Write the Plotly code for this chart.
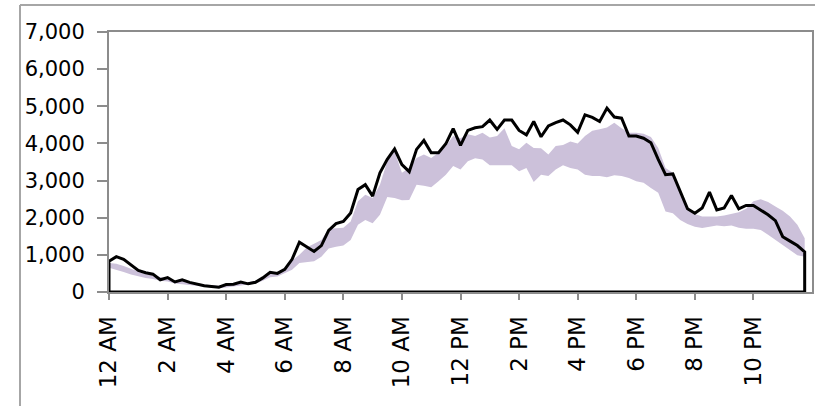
import plotly.graph_objects as go

# ---- data (15-minute intervals over one day) ----
tick_hours = [0, 2, 4, 6, 8, 10, 12, 14, 16, 18, 20, 22]
tick_labels = ["12 AM", "2 AM", "4 AM", "6 AM", "8 AM", "10 AM",
               "12 PM", "2 PM", "4 PM", "6 PM", "8 PM", "10 PM"]

actual = [830, 950, 880, 720, 580, 520, 480, 330, 390, 270, 330, 260,
          210, 170, 150, 130, 200, 210, 270, 220, 260, 380, 530, 500,
          610, 880, 1340, 1210, 1090, 1250, 1660, 1840, 1900, 2130, 2760, 2890,
          2580, 3210, 3570, 3850, 3430, 3240, 3840, 4080, 3750, 3750, 3990, 4400,
          3950, 4350, 4420, 4450, 4630, 4380, 4630, 4630, 4350, 4230, 4590, 4180,
          4470, 4560, 4630, 4500, 4300, 4770, 4700, 4590, 4950, 4710, 4680, 4200,
          4200, 4140, 4020, 3570, 3160, 3180, 2710, 2240, 2120, 2260, 2690, 2210,
          2260, 2600, 2240, 2330, 2330, 2210, 2080, 1920, 1490, 1370, 1250, 1080]

band_upper = [780, 760, 700, 620, 540, 480, 450, 400, 360, 310, 300, 280,
              240, 200, 180, 170, 200, 230, 250, 260, 300, 400, 500, 500,
              600, 850, 1000, 1200, 1300, 1400, 1700, 1710, 1730, 1900, 2440, 2620,
              2530, 2890, 3520, 3780, 3210, 3340, 3610, 3700, 3610, 3750, 3930, 4200,
              4140, 4250, 4200, 4290, 4160, 4200, 4410, 3930, 3840, 4020, 3880, 3870,
              3700, 3930, 3960, 4050, 4000, 4200, 4340, 4380, 4430, 4560, 4410, 4290,
              4290, 4260, 4170, 3880, 3340, 3210, 2710, 2260, 2100, 2030, 2030, 2030,
              2060, 2100, 2150, 2240, 2440, 2500, 2420, 2300, 2190, 2030, 1810, 1450]

band_lower = [650, 600, 540, 470, 420, 380, 350, 300, 280, 230, 210, 190,
              160, 130, 110, 100, 120, 150, 170, 200, 230, 300, 400, 420,
              500, 600, 780, 800, 830, 950, 1170, 1220, 1250, 1400, 1810, 1940,
              1850, 2080, 2560, 2530, 2470, 2480, 2890, 2860, 2820, 2980, 3160, 3390,
              3300, 3520, 3600, 3570, 3410, 3410, 3410, 3410, 3250, 3340, 2960, 3160,
              3120, 3300, 3410, 3340, 3300, 3160, 3120, 3120, 3090, 3140, 3120, 3070,
              2980, 2940, 2800, 2670, 2170, 2120, 1940, 1830, 1760, 1720, 1760, 1790,
              1770, 1790, 1730, 1700, 1700, 1670, 1540, 1400, 1270, 1130, 990, 950]

hours = [i / 4 for i in range(len(actual))]

# ---- styling ----
W, H = 815, 406
ML, MR, MT, MB = 109, 3, 32, 114
FONT = "DejaVu Sans"
LAVENDER = "#CCC1DA"
FRAME = "#8C8C8C"

fig = go.Figure()

fig.add_trace(go.Scatter(x=hours, y=band_lower, mode="lines",
                         line=dict(width=0, color=LAVENDER),
                         hoverinfo="skip", showlegend=False))
fig.add_trace(go.Scatter(x=hours, y=band_upper, mode="lines",
                         line=dict(width=0, color=LAVENDER),
                         fill="tonexty", fillcolor=LAVENDER,
                         hoverinfo="skip", showlegend=False))

# actual series drawn as the outline of an area (closed down to the baseline)
outline_x = hours + [hours[-1], hours[0], hours[0]]
outline_y = actual + [0, 0, actual[0]]
fig.add_trace(go.Scatter(x=outline_x, y=outline_y, mode="lines",
                         line=dict(color="black", width=3),
                         showlegend=False))

pw = W - ML - MR
ph = H - MT - MB
def px_x(px):
    return (px - ML) / pw
def px_y(py):
    return (H - MB - py) / ph

# outer chart border (top and left visible, rest cropped)
fig.add_shape(type="line", xref="paper", yref="paper",
              x0=px_x(20), x1=px_x(W + 5), y0=px_y(5), y1=px_y(5),
              line=dict(color="#A6A6A6", width=2))
fig.add_shape(type="line", xref="paper", yref="paper",
              x0=px_x(20), x1=px_x(20), y0=px_y(5), y1=px_y(H + 5),
              line=dict(color="#A6A6A6", width=2))

fig.update_layout(
    width=W, height=H,
    margin=dict(l=ML, r=MR, t=MT, b=MB, autoexpand=False),
    paper_bgcolor="white", plot_bgcolor="white",
    font=dict(family=FONT, color="black"),
    showlegend=False,
)
fig.update_xaxes(range=[0, 24], tickvals=tick_hours, ticktext=tick_labels,
                 tickangle=-90, ticks="outside", ticklen=6, tickcolor=FRAME,
                 tickwidth=1.5, showgrid=False, zeroline=False,
                 showline=True, linecolor=FRAME, linewidth=2, mirror=True,
                 tickfont=dict(family=FONT, size=23, color="black"),
                 ticklabelstandoff=7)
fig.update_yaxes(range=[0, 7000], dtick=1000, tickformat=",",
                 ticks="outside", ticklen=10, tickcolor=FRAME, tickwidth=1.5,
                 showgrid=False, zeroline=False,
                 showline=True, linecolor=FRAME, linewidth=2, mirror=True,
                 tickfont=dict(family=FONT, size=21, color="black"),
                 ticklabelstandoff=8)

fig.write_html("out.html", config={"displayModeBar": False},
               post_script="document.body.style.margin='0';document.body.style.overflow='hidden';")
